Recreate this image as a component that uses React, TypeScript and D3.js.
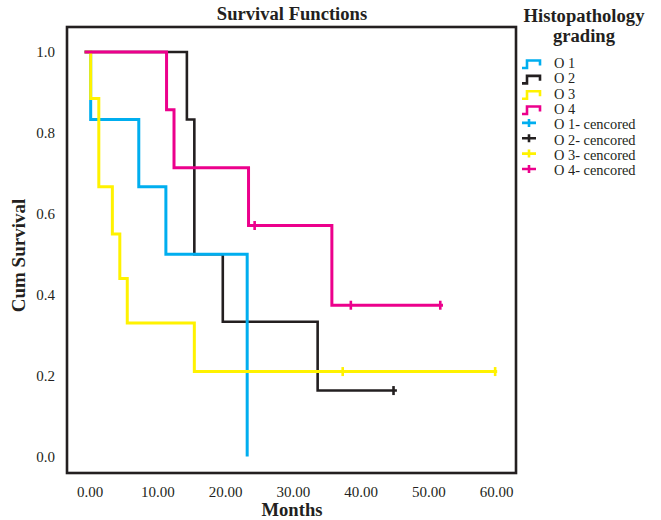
import React, { useEffect, useRef } from 'react';
import * as d3 from 'd3';

// groups, colours and legend labels
const groups = ['O 1', 'O 2', 'O 3', 'O 4'];
const groupColors = ['#00AEEF', '#231F20', '#FFF200', '#EC008C'];
const censorLabels = ['O 1- cencored', 'O 2- cencored', 'O 3- cencored', 'O 4- cencored'];

// step events: [month, cum survival after the drop]
const curveStart = -0.8;
const o1Steps: [number, number][] = [[0.1, 0.833], [7.2, 0.667], [11.2, 0.5], [23.2, 0.0]];
const o2Steps: [number, number][] = [[14.3, 0.833], [15.4, 0.5], [19.6, 0.333], [33.6, 0.163]];
const o3Steps: [number, number][] = [[0.1, 0.885], [1.3, 0.667], [3.3, 0.55], [4.4, 0.44], [5.5, 0.33], [15.4, 0.21]];
const o4Steps: [number, number][] = [[11.3, 0.857], [12.4, 0.714], [23.4, 0.571], [35.7, 0.374]];

// censored times (month) and where each curve ends
const o1Censored: number[] = [];
const o2Censored = [44.8];
const o3Censored = [37.3, 59.8];
const o4Censored = [24.3, 38.5, 51.7];
const curveEnds = [23.2, 45.3, 60.1, 52.1];

const xTicks = [0, 10, 20, 30, 40, 50, 60];
const yTicks = [0, 0.2, 0.4, 0.6, 0.8, 1.0];

const App = () => {
  const svgRef = useRef<SVGSVGElement>(null);

  useEffect(() => {
    const svg = d3.select(svgRef.current);
    svg.selectAll('*').remove();

    const width = 661;
    const height = 520;
    const font = '"Liberation Serif", "Times New Roman", serif';
    const ink = '#231F20';

    const x = d3.scaleLinear().domain([0, 60]).range([90, 496.5]);
    const y = d3.scaleLinear().domain([0, 1]).range([456.5, 52]);

    svg.attr('width', width).attr('height', height);

    // plot frame
    svg.append('rect')
      .attr('x', 67).attr('y', 27)
      .attr('width', 449).attr('height', 446)
      .attr('fill', 'none')
      .attr('stroke', ink)
      .attr('stroke-width', 2.6);

    // title
    svg.append('text')
      .attr('x', 292).attr('y', 20)
      .attr('text-anchor', 'middle')
      .attr('font-family', font).attr('font-weight', 'bold').attr('font-size', 18.6)
      .attr('fill', ink)
      .text('Survival Functions');

    // axis tick labels (no tick marks in the reference)
    svg.append('g').selectAll('text')
      .data(xTicks)
      .enter().append('text')
      .attr('x', d => x(d)).attr('y', 497)
      .attr('text-anchor', 'middle')
      .attr('font-family', font).attr('font-size', 15)
      .attr('fill', ink)
      .text(d => d3.format('.2f')(d));

    svg.append('g').selectAll('text')
      .data(yTicks)
      .enter().append('text')
      .attr('x', 55).attr('y', d => y(d))
      .attr('dy', '0.35em')
      .attr('text-anchor', 'end')
      .attr('font-family', font).attr('font-size', 15)
      .attr('fill', ink)
      .text(d => d3.format('.1f')(d));

    // axis titles
    svg.append('text')
      .attr('x', 292).attr('y', 516)
      .attr('text-anchor', 'middle')
      .attr('font-family', font).attr('font-weight', 'bold').attr('font-size', 18.6)
      .attr('fill', ink)
      .text('Months');

    svg.append('text')
      .attr('transform', 'translate(25, 255.5) rotate(-90)')
      .attr('text-anchor', 'middle')
      .attr('font-family', font).attr('font-weight', 'bold').attr('font-size', 19)
      .attr('fill', ink)
      .text('Cum Survival');

    // build the step curves
    const stepsByGroup = [o1Steps, o2Steps, o3Steps, o4Steps];
    const censoredByGroup = [o1Censored, o2Censored, o3Censored, o4Censored];

    const survivalAt = (steps: [number, number][], t: number) => {
      let s = 1;
      steps.forEach(([m, v]) => { if (m <= t) s = v; });
      return s;
    };

    const line = d3.line<[number, number]>()
      .x(d => x(d[0]))
      .y(d => y(d[1]))
      .curve(d3.curveStepAfter);

    // draw order: O2, O1, O3, O4 (magenta on top)
    const drawOrder = [1, 0, 2, 3];
    const plot = svg.append('g');

    drawOrder.forEach(i => {
      const steps = stepsByGroup[i];
      const pts: [number, number][] = [[curveStart, 1], ...steps];
      const last = steps[steps.length - 1];
      if (curveEnds[i] > last[0]) pts.push([curveEnds[i], last[1]]);
      const isBlack = i === 1;

      plot.append('path')
        .attr('d', line(pts))
        .attr('fill', 'none')
        .attr('stroke', groupColors[i])
        .attr('stroke-width', isBlack ? 2.6 : 3)
        .attr('stroke-linejoin', 'miter')
        .attr('stroke-linecap', 'butt');

      plot.selectAll(null)
        .data(censoredByGroup[i])
        .enter().append('line')
        .attr('x1', d => x(d)).attr('x2', d => x(d))
        .attr('y1', d => y(survivalAt(steps, d)) - 4.5)
        .attr('y2', d => y(survivalAt(steps, d)) + 4.5)
        .attr('stroke', groupColors[i])
        .attr('stroke-width', 2.6);
    });

    // legend
    const legend = svg.append('g');
    legend.append('text')
      .attr('x', 584).attr('y', 21.7)
      .attr('text-anchor', 'middle')
      .attr('font-family', font).attr('font-weight', 'bold').attr('font-size', 18.6)
      .attr('fill', ink)
      .text('Histopathology');
    legend.append('text')
      .attr('x', 584).attr('y', 41.7)
      .attr('text-anchor', 'middle')
      .attr('font-family', font).attr('font-weight', 'bold').attr('font-size', 18.6)
      .attr('fill', ink)
      .text('grading');

    const rowBase = (r: number) => 68 + r * 15.35;

    groups.forEach((g, i) => {
      const b = rowBase(i);
      legend.append('path')
        .attr('d', `M522,${b} H527 V${b - 7.5} H540 V${b - 2.5}`)
        .attr('fill', 'none')
        .attr('stroke', groupColors[i])
        .attr('stroke-width', 2.6);
      legend.append('text')
        .attr('x', 554).attr('y', b)
        .attr('font-family', font).attr('font-size', 14.4)
        .attr('fill', ink)
        .text(g);
    });

    censorLabels.forEach((label, i) => {
      const b = rowBase(i + 4);
      legend.append('path')
        .attr('d', `M522,${b - 6.5} H536 M529,${b - 10.5} V${b - 2.5}`)
        .attr('fill', 'none')
        .attr('stroke', groupColors[i])
        .attr('stroke-width', 2.6);
      legend.append('text')
        .attr('x', 554).attr('y', b)
        .attr('font-family', font).attr('font-size', 14.4)
        .attr('fill', ink)
        .text(label);
    });
  }, []);

  return <svg ref={svgRef} style={{ position: 'absolute', left: 0, top: 0 }}></svg>;
};

export default App;
